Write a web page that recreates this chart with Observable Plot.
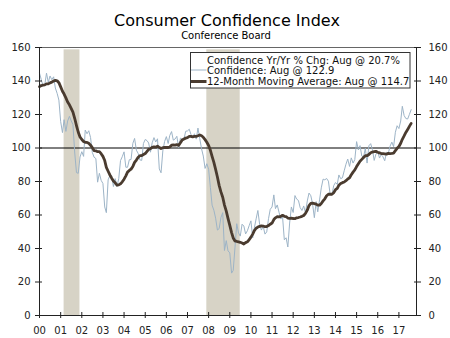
<!DOCTYPE html>
<html><head><meta charset="utf-8">
<script src="https://cdn.jsdelivr.net/npm/d3@7"></script>
<script src="https://cdn.jsdelivr.net/npm/@observablehq/plot@0.6"></script>
<style>
body{margin:0;background:#fff;font-family:"DejaVu Sans",Verdana,sans-serif;}
#wrap{position:relative;width:450px;height:338px;overflow:hidden;background:#fff}
#chart{position:absolute;left:0;top:40px}
#overlay{position:absolute;left:0;top:0;pointer-events:none}
</style></head><body>
<div id="wrap">
<div id="chart"></div>
</div>
<script>
// ---- data ----
const titleText = "Consumer Confidence Index";
const subtitleText = "Conference Board";
const startMonth = "2000-01-01";
const confidence = [
144.7,140.8,137.1,137.7,144.7,139.2,143.0,140.8,142.5,135.8,132.6,128.6,
115.7,109.2,116.9,109.9,116.1,118.9,116.3,114.0,97.0,85.3,84.9,94.6,
97.8,95.0,110.7,108.5,110.3,106.3,97.4,94.5,93.7,79.6,84.9,80.7,
78.8,64.8,61.4,81.0,83.6,83.5,77.0,81.7,77.0,81.7,92.5,94.8,
97.7,88.5,88.5,93.0,93.1,102.8,105.7,98.7,96.7,92.9,92.6,102.7,
105.1,104.4,103.0,97.5,103.1,106.2,103.6,105.5,87.5,85.2,98.3,103.8,
106.8,102.7,107.5,109.8,104.7,105.4,107.0,100.2,105.9,105.1,105.3,110.0,
110.2,111.2,108.2,106.3,108.5,105.3,111.9,105.6,99.5,95.2,87.8,90.6,
87.3,76.4,65.9,62.8,58.1,51.0,51.9,58.5,61.4,38.8,44.7,38.6,
37.4,25.3,26.9,40.8,54.8,49.3,47.4,54.5,53.4,48.7,50.6,53.6,
56.5,46.4,52.3,57.7,62.7,54.3,51.0,53.2,48.6,49.9,57.8,63.4,
64.8,72.0,63.8,66.0,61.7,57.6,59.2,45.2,46.4,40.9,55.2,64.8,
61.5,71.6,69.5,68.7,64.4,62.7,65.4,61.3,68.4,73.1,71.5,66.7,
58.4,68.0,61.9,69.0,76.2,81.4,81.0,81.8,80.2,72.4,72.0,77.5,
79.4,78.3,83.9,81.7,82.2,86.4,90.3,93.4,89.0,94.1,91.0,93.1,
103.8,98.8,101.4,95.2,94.6,99.8,91.0,101.3,102.6,99.1,92.6,96.3,
97.8,94.0,96.1,94.7,92.4,97.4,96.7,101.1,103.5,100.8,109.4,113.3,
111.6,116.1,124.9,119.4,117.6,117.3,120.0,122.9];
const movingAvg = [
136.6,137.3,137.5,137.7,138.3,138.3,138.9,139.3,140.0,140.4,140.1,139.0,
136.5,133.9,132.2,129.9,127.5,125.8,123.6,121.4,117.6,113.4,109.4,106.6,
105.1,103.9,103.4,103.3,102.8,101.7,100.2,98.5,98.3,97.8,97.8,96.6,
95.0,92.5,88.4,86.1,83.9,82.0,80.3,79.2,77.8,78.0,78.6,79.8,
81.4,83.4,85.6,86.6,87.4,89.0,91.4,92.8,94.5,95.4,95.4,96.1,
96.7,98.0,99.2,99.6,100.4,100.7,100.5,101.1,100.3,99.7,100.2,100.3,
100.4,100.3,100.6,101.7,101.8,101.7,102.0,101.6,103.1,104.8,105.4,105.9,
106.2,106.9,106.9,106.6,106.9,106.9,107.3,107.8,107.3,106.4,105.0,103.4,
101.5,98.6,95.0,91.4,87.2,82.7,77.7,73.8,70.6,65.9,62.3,58.0,
53.8,49.5,46.3,44.5,44.2,44.0,43.7,43.3,42.7,43.5,44.0,45.2,
46.8,48.6,50.7,52.1,52.8,53.2,53.5,53.4,53.0,53.1,53.7,54.5,
55.2,57.3,58.3,59.0,58.9,59.2,59.8,59.2,59.0,58.2,58.0,58.1,
57.9,57.8,58.3,58.5,58.8,59.2,59.7,61.0,62.9,65.6,66.9,67.1,
66.8,66.5,65.9,65.9,66.9,68.4,69.7,71.5,72.4,72.4,72.4,73.3,
75.1,75.9,77.8,78.8,79.3,79.7,80.5,81.5,82.2,84.0,85.6,86.9,
88.9,90.6,92.1,93.2,94.3,95.4,95.4,96.1,97.2,97.6,97.8,98.0,
97.5,97.1,96.7,96.7,96.5,96.3,96.8,96.7,96.8,97.0,98.4,99.8,
100.9,102.8,105.2,107.2,109.3,111.0,112.9,114.7];
const recessionStart = ["2001-03-01","2007-12-01"];
const recessionEnd = ["2001-11-30","2009-06-30"];
const xDomain = ["2000-01-01","2017-11-01"];
const yearTicks = [2000,2001,2002,2003,2004,2005,2006,2007,2008,2009,2010,2011,2012,2013,2014,2015,2016,2017];
const yearLabels = ["00","01","02","03","04","05","06","07","08","09","10","11","12","13","14","15","16","17"];
const yTicks = [0,20,40,60,80,100,120,140,160];
const legendLabels = ["Confidence Yr/Yr % Chg: Aug @ 20.7%","Confidence: Aug @ 122.9","12-Month Moving Average: Aug @ 114.7"];

// ---- build ----
const start = new Date(startMonth);
const rows = confidence.map((v, i) => ({date: d3.utcMonth.offset(start, i), conf: v, ma: movingAvg[i]}));
const recessions = recessionStart.map((s, i) => ({start: new Date(s), end: new Date(recessionEnd[i])}));
const x0 = new Date(xDomain[0]), x1 = new Date(xDomain[1]);
const tickDates = yearTicks.map(y => new Date(Date.UTC(y, 0, 1)));
const labelOf = d => yearLabels[yearTicks.indexOf(d.getUTCFullYear())];
const ink = "#222";
const blue = "#9db4c7", brown = "#4a3b2f";
const font = "'DejaVu Sans', Verdana, sans-serif";

const plot = Plot.plot({
  width: 450, height: 298,
  marginTop: 7, marginBottom: 23, marginLeft: 39, marginRight: 34,
  style: {fontFamily: font, fontSize: "10px", color: ink, background: "white"},
  x: {type: "utc", domain: [x0, x1], axis: null},
  y: {domain: [0, 160], axis: null},
  marks: [
    Plot.rect(recessions, {x1: "start", x2: "end", y1: 0, y2: 158.6, fill: "#d7d3c6"}),
    Plot.ruleY([100], {stroke: "#000", strokeWidth: 1}),
    Plot.line(rows, {x: "date", y: "conf", stroke: blue, strokeWidth: 1}),
    Plot.line(rows, {x: "date", y: "ma", stroke: brown, strokeWidth: 2.8}),
    Plot.ruleY([160], {stroke: "#666"}),
    Plot.ruleY([0], {stroke: ink}),
    Plot.ruleX([x0, x1], {stroke: ink}),
    Plot.axisY(yTicks, {anchor: "left", tickSize: 7, dx: 3, tickFormat: () => "", stroke: ink}),
    Plot.axisY(yTicks, {anchor: "right", tickSize: 7, dx: -3, tickFormat: () => "", stroke: ink}),
    Plot.axisY(yTicks, {anchor: "left", tickSize: 0, tickPadding: 9, fill: ink}),
    Plot.axisY(yTicks, {anchor: "right", tickSize: 0, tickPadding: 12, fill: ink}),
    Plot.axisX(tickDates, {anchor: "bottom", tickSize: 6, dy: -3, tickFormat: () => "", stroke: ink}),
    Plot.axisX(tickDates, {anchor: "bottom", tickSize: 0, tickPadding: 11, tickFormat: labelOf, fill: ink})
  ]
});
document.getElementById("chart").appendChild(plot);

// title + legend overlay
const svg = d3.select("#wrap").append("svg").attr("id", "overlay").attr("width", 450).attr("height", 338);
svg.append("text").attr("x", 227).attr("y", 26).attr("text-anchor", "middle")
  .attr("font-family", font).attr("font-size", 16).attr("fill", "#000").text(titleText);
svg.append("text").attr("x", 226).attr("y", 39.2).attr("text-anchor", "middle")
  .attr("font-family", font).attr("font-size", 10).attr("fill", "#000").text(subtitleText);

svg.append("rect").attr("x", 190.5).attr("y", 52.5).attr("width", 219.5).attr("height", 35.5)
  .attr("fill", "white").attr("stroke", "#333").attr("stroke-width", 1);
const swatches = [null, {c: blue, w: 1, y: 70}, {c: brown, w: 3, y: 81.5}];
const baselines = [63.8, 74.4, 85];
legendLabels.forEach((t, i) => {
  const s = swatches[i];
  if (s) svg.append("line").attr("x1", 191).attr("x2", 206.5).attr("y1", s.y).attr("y2", s.y)
    .attr("stroke", s.c).attr("stroke-width", s.w);
  svg.append("text").attr("x", 207).attr("y", baselines[i]).text(t)
    .attr("font-family", font).attr("font-size", 10).attr("fill", "#111");
});
</script>
</body></html>
